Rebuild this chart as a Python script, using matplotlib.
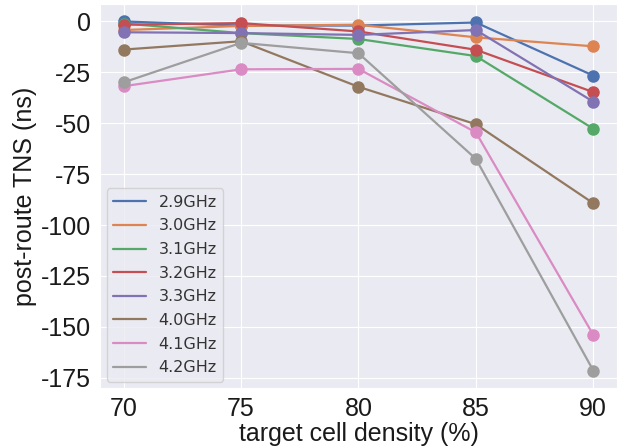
import matplotlib
matplotlib.use("Agg")
import matplotlib.pyplot as plt
import seaborn as sns

# densita' target sull'asse x
density = [70, 75, 80, 85, 90]

freqs = ["2.9GHz", "3.0GHz", "3.1GHz", "3.2GHz", "3.3GHz", "4.0GHz", "4.1GHz", "4.2GHz"]

tns_29 = [0.0, -2.0, -2.0, -0.5, -26.6]
tns_30 = [-4.2, -2.2, -1.6, -7.8, -12.2]
tns_31 = [-1.0, -5.7, -8.6, -17.0, -52.7]
tns_32 = [-1.6, -0.8, -4.9, -13.9, -34.7]
tns_33 = [-5.3, -5.7, -6.6, -4.2, -39.4]
tns_40 = [-13.8, -9.7, -32.1, -50.5, -89.3]
tns_41 = [-31.8, -23.5, -23.3, -54.5, -154.0]
tns_42 = [-29.9, -10.5, -15.6, -67.5, -171.5]

all_tns = [tns_29, tns_30, tns_31, tns_32, tns_33, tns_40, tns_41, tns_42]

sns.set_style("darkgrid")
plt.rcParams['font.family'] = ['Liberation Sans', 'DejaVu Sans']
plt.rcParams['axes.unicode_minus'] = False

fig = plt.figure(figsize=(6.3, 4.47), dpi=100)
ax = fig.add_axes([0.159, 0.132, 0.820, 0.859])

colors = list(sns.color_palette("deep", 8))
colors[7] = (0.62, 0.62, 0.62)
for name, vals, c in zip(freqs, all_tns, colors):
    ax.plot(density, vals, color=c, lw=1.6, label=name)
    ax.plot(density, vals, 'o', color=c, ms=8)

ax.set_xticks(density)
ax.set_yticks([0, -25, -50, -75, -100, -125, -150, -175])
ax.tick_params(labelsize=18, colors='#1a1a1a', pad=3)
ax.set_xlabel("target cell density (%)", fontsize=18, color='#1a1a1a', labelpad=1)
ax.set_ylabel("post-route TNS (ns)", fontsize=18, color='#1a1a1a', labelpad=3)

leg = ax.legend(loc='lower left', prop={'family': 'DejaVu Sans', 'size': 11.5},
                frameon=True, facecolor='#EAEAF2', edgecolor='#cccccc',
                handlelength=2.1, handletextpad=0.75, labelspacing=0.54,
                borderpad=0.4, borderaxespad=0.4)
for t in leg.get_texts():
    t.set_color('#333333')

fig.savefig("out.png", dpi=100)
